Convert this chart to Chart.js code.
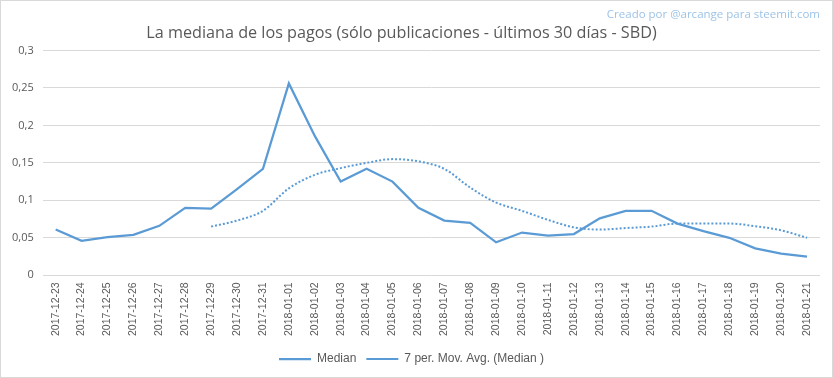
<!DOCTYPE html>
<html>
<head>
<meta charset="utf-8">
<script src="https://cdn.jsdelivr.net/npm/chart.js@4"></script>
<style>
  html, body { margin: 0; padding: 0; background: #fff; }
  #wrap { position: relative; width: 833px; height: 378px; box-sizing: border-box; border: 1px solid #d9d9d9; }
  #credit { position: absolute; right: 12px; top: 5px; font: 11.5px "Open Sans", sans-serif; color: #9dc3e6; }
</style>
</head>
<body>
<div id="wrap">
  <canvas id="mycanvas" width="831" height="376"></canvas>
  <div id="credit">Creado por @arcange para steemit.com</div>
</div>
<script>
const dates = [
  "2017-12-23", "2017-12-24", "2017-12-25", "2017-12-26", "2017-12-27", "2017-12-28",
  "2017-12-29", "2017-12-30", "2017-12-31", "2018-01-01", "2018-01-02", "2018-01-03",
  "2018-01-04", "2018-01-05", "2018-01-06", "2018-01-07", "2018-01-08", "2018-01-09",
  "2018-01-10", "2018-01-11", "2018-01-12", "2018-01-13", "2018-01-14", "2018-01-15",
  "2018-01-16", "2018-01-17", "2018-01-18", "2018-01-19", "2018-01-20", "2018-01-21"
];
const median = [
  0.061, 0.046, 0.051, 0.054, 0.066, 0.090, 0.089, 0.115, 0.142, 0.256,
  0.186, 0.125, 0.142, 0.125, 0.090, 0.073, 0.070, 0.044, 0.057, 0.053,
  0.055, 0.076, 0.086, 0.086, 0.069, 0.059, 0.050, 0.036, 0.029, 0.025
];
// 7 per. moving average
const movAvg = [
  null, null, null, null, null, null, 0.065, 0.073, 0.086, 0.116,
  0.134, 0.143, 0.150, 0.155, 0.152, 0.142, 0.117, 0.097, 0.086, 0.074,
  0.064, 0.061, 0.063, 0.065, 0.069, 0.069, 0.069, 0.0655, 0.060, 0.050
];
const yTicks = [0, 0.05, 0.1, 0.15, 0.2, 0.25, 0.3];

const blue = "#5b9bd5";
const grey = "#595959";

// excel puts the title a bit left of centre
const titleShift = {
  id: "titleShift",
  afterLayout(chart) {
    chart.titleBlock.left -= 10;
    chart.titleBlock.right -= 10;
  },
};

const ctx = document.getElementById("mycanvas");
const myChart = new Chart(ctx, {
  type: "line",
  plugins: [titleShift],
  data: {
    labels: dates,
    datasets: [
      {
        label: "Median",
        data: median,
        borderColor: blue,
        backgroundColor: blue,
        borderWidth: 2.25,
        pointRadius: 0,
        tension: 0,
      },
      {
        label: "7 per. Mov. Avg. (Median )",
        data: movAvg,
        borderColor: blue,
        backgroundColor: blue,
        borderWidth: 2,
        borderDash: [2, 2],
        pointRadius: 0,
        cubicInterpolationMode: "monotone",
      },
    ],
  },
  options: {
    responsive: false,
    animation: false,
    layout: { padding: { left: 2, right: 12, top: 0, bottom: 2 } },
    plugins: {
      title: {
        display: true,
        text: "La mediana de los pagos (sólo publicaciones - últimos 30 días - SBD)",
        color: grey,
        font: { size: 16.2, family: "Open Sans", weight: "normal" },
        padding: { top: 23, bottom: 7 },
      },
      legend: {
        position: "bottom",
        labels: {
          color: grey,
          font: { size: 12, family: "Liberation Sans" },
          usePointStyle: true,
          pointStyle: "line",
          pointStyleWidth: 32,
          boxHeight: 8,
          padding: 10,
        },
      },
      tooltip: { enabled: false },
    },
    scales: {
      x: {
        offset: true,
        grid: { display: false, drawTicks: false },
        border: { display: false },
        ticks: {
          color: grey,
          font: { size: 10.5, family: "Liberation Sans" },
          minRotation: 90,
          maxRotation: 90,
          autoSkip: false,
          padding: 7,
        },
      },
      y: {
        min: 0,
        max: 0.3,
        afterBuildTicks: (axis) => {
          axis.ticks = yTicks.map((v) => ({ value: v }));
        },
        grid: { color: "#d9d9d9", drawTicks: false },
        border: { display: false },
        ticks: {
          color: grey,
          font: { size: 11, family: "Open Sans" },
          padding: 9,
          callback: (v) => String(Math.round(v * 100) / 100).replace(".", ","),
        },
      },
    },
  },
});
</script>
</body>
</html>
